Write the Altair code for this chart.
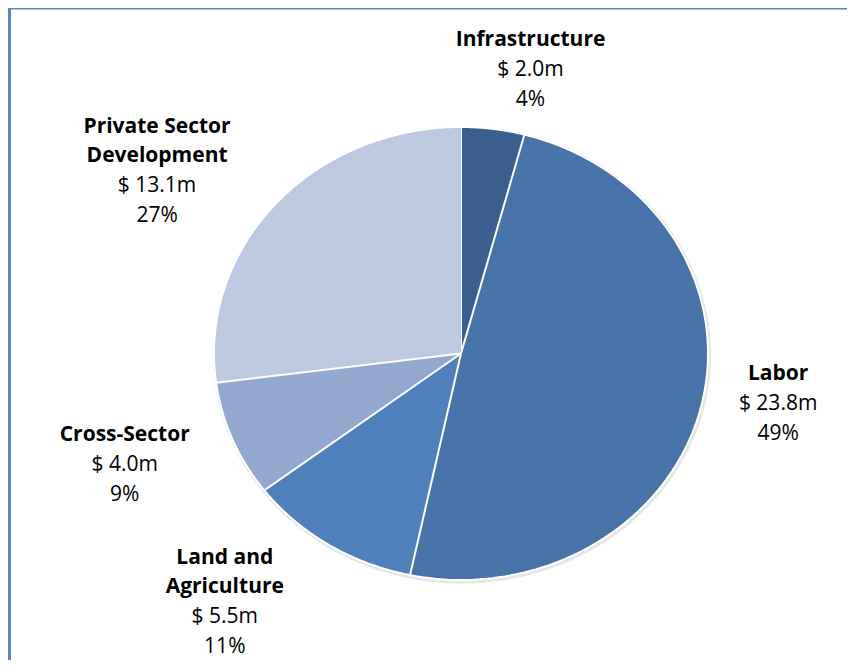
import altair as alt
import pandas as pd

# ---- data ----
categories = ["Infrastructure", "Labor", "Land and Agriculture", "Cross-Sector", "Private Sector Development"]
name_lines = ["Infrastructure", "Labor", "Land and\nAgriculture", "Cross-Sector", "Private Sector\nDevelopment"]
amounts = [2.0, 23.8, 5.5, 4.0, 13.1]   # $ millions
percents = [4, 49, 11, 9, 27]
colors = ["#3B5F8F", "#4674A9", "#4E80BC", "#93A8CF", "#BCC9E1"]

df = pd.DataFrame({
    "category": categories,
    "name": name_lines,
    "amount": amounts,
    "pct": percents,
    "idx": list(range(len(categories))),
})
df["value_text"] = [f"$ {a:.1f}m\n{p}%" for a, p in zip(amounts, percents)]

# ---- layout / style ----
W, H = 839, 652
CX, CY = 453, 345.5          # pie centre inside the plot area
RX, RY = 247, 226.5          # the reference pie is slightly stretched horizontally
NPTS = 120                   # outline resolution per slice
LABEL_R = 290
LH = 29.5
FONT = "Open Sans"
# offset of the "$" line of each label from its slice's mid-angle anchor
label_place = {
    "Infrastructure": (32, 4),
    "Labor": (35, -17),
    "Land and Agriculture": (-81, 19),
    "Cross-Sector": (-68, 1),
    "Private Sector Development": (-86, 24),
}

xs = alt.X("px:Q", scale=alt.Scale(domain=[0, W], nice=False, zero=False), axis=None)
ys = alt.Y("py:Q", scale=alt.Scale(domain=[0, H], nice=False, zero=False, reverse=True), axis=None)

# pie slices: stacked angles from the data, drawn as (elliptical) filled outlines
slices = alt.Chart(df).transform_window(
    cum="sum(amount)", sort=[alt.SortField("idx")], frame=[None, 0]
).transform_joinaggregate(
    total="sum(amount)"
).transform_calculate(
    a0="(datum.cum - datum.amount) / datum.total * 2 * PI",
    a1="datum.cum / datum.total * 2 * PI",
    k=f"sequence(-1, {NPTS + 1})",
).transform_flatten(["k"]).transform_calculate(
    ang=f"datum.a0 + (datum.a1 - datum.a0) * max(datum.k, 0) / {NPTS}",
).transform_calculate(
    px=f"datum.k < 0 ? {CX} : {CX} + {RX} * sin(datum.ang)",
    py=f"datum.k < 0 ? {CY} : {CY} - {RY} * cos(datum.ang)",
).mark_line(filled=True, stroke="white", strokeWidth=2, strokeJoin="round").encode(
    x=xs, y=ys,
    order=alt.Order("k:Q"),
    color=alt.Color("category:N", scale=alt.Scale(domain=categories, range=colors), legend=None),
)

one = pd.DataFrame({"a": [0]})
shadow = alt.Chart(one).transform_calculate(
    k="sequence(0, 361)"
).transform_flatten(["k"]).transform_calculate(
    px=f"{CX + 1} + {RX + 2} * sin(datum.k * PI / 180)",
    py=f"{CY + 1.5} - {RY + 2} * cos(datum.k * PI / 180)",
).mark_line(filled=True, color="#b8b8b8", opacity=0.35).encode(
    x=xs, y=ys, order=alt.Order("k:Q")
)

frame_top = alt.Chart(one).mark_rule(color="#5B86C5", strokeWidth=3).encode(
    x=alt.value(0), x2=alt.value(W), y=alt.value(0)
)
frame_left = alt.Chart(one).mark_rule(color="#5B86C5", strokeWidth=3).encode(
    x=alt.value(1.5), y=alt.value(0), y2=alt.value(H)
)

# labels anchored at each slice's mid angle
base = alt.Chart(df).encode(
    theta=alt.Theta("amount:Q", stack=True),
    order=alt.Order("idx:Q"),
    x=alt.value(CX),
    y=alt.value(CY),
)
texts = []
for cat, nm in zip(categories, name_lines):
    dx, dy = label_place[cat]
    n = nm.count("\n") + 1
    names = base.transform_calculate(
        t=f"datum.category == '{cat}' ? datum.name : ''"
    ).mark_text(
        radius=LABEL_R, dx=dx, dy=dy - 30 - (n - 1) * LH,
        font=FONT, fontSize=21, fontWeight="bold", lineHeight=LH, lineBreak="\n",
        align="center", baseline="middle", color="#000000",
    ).encode(text="t:N")
    vals = base.transform_calculate(
        t=f"datum.category == '{cat}' ? datum.value_text : ''"
    ).mark_text(
        radius=LABEL_R, dx=dx, dy=dy,
        font=FONT, fontSize=21, lineHeight=30, lineBreak="\n",
        align="center", baseline="middle", color="#000000",
    ).encode(text="t:N")
    texts += [names, vals]

chart = alt.layer(frame_top, frame_left, shadow, slices, *texts).properties(
    width=W, height=H, padding=0, autosize="none"
).configure_view(stroke=None)

chart.save("out.html", embed_options={"renderer": "svg", "actions": False})
